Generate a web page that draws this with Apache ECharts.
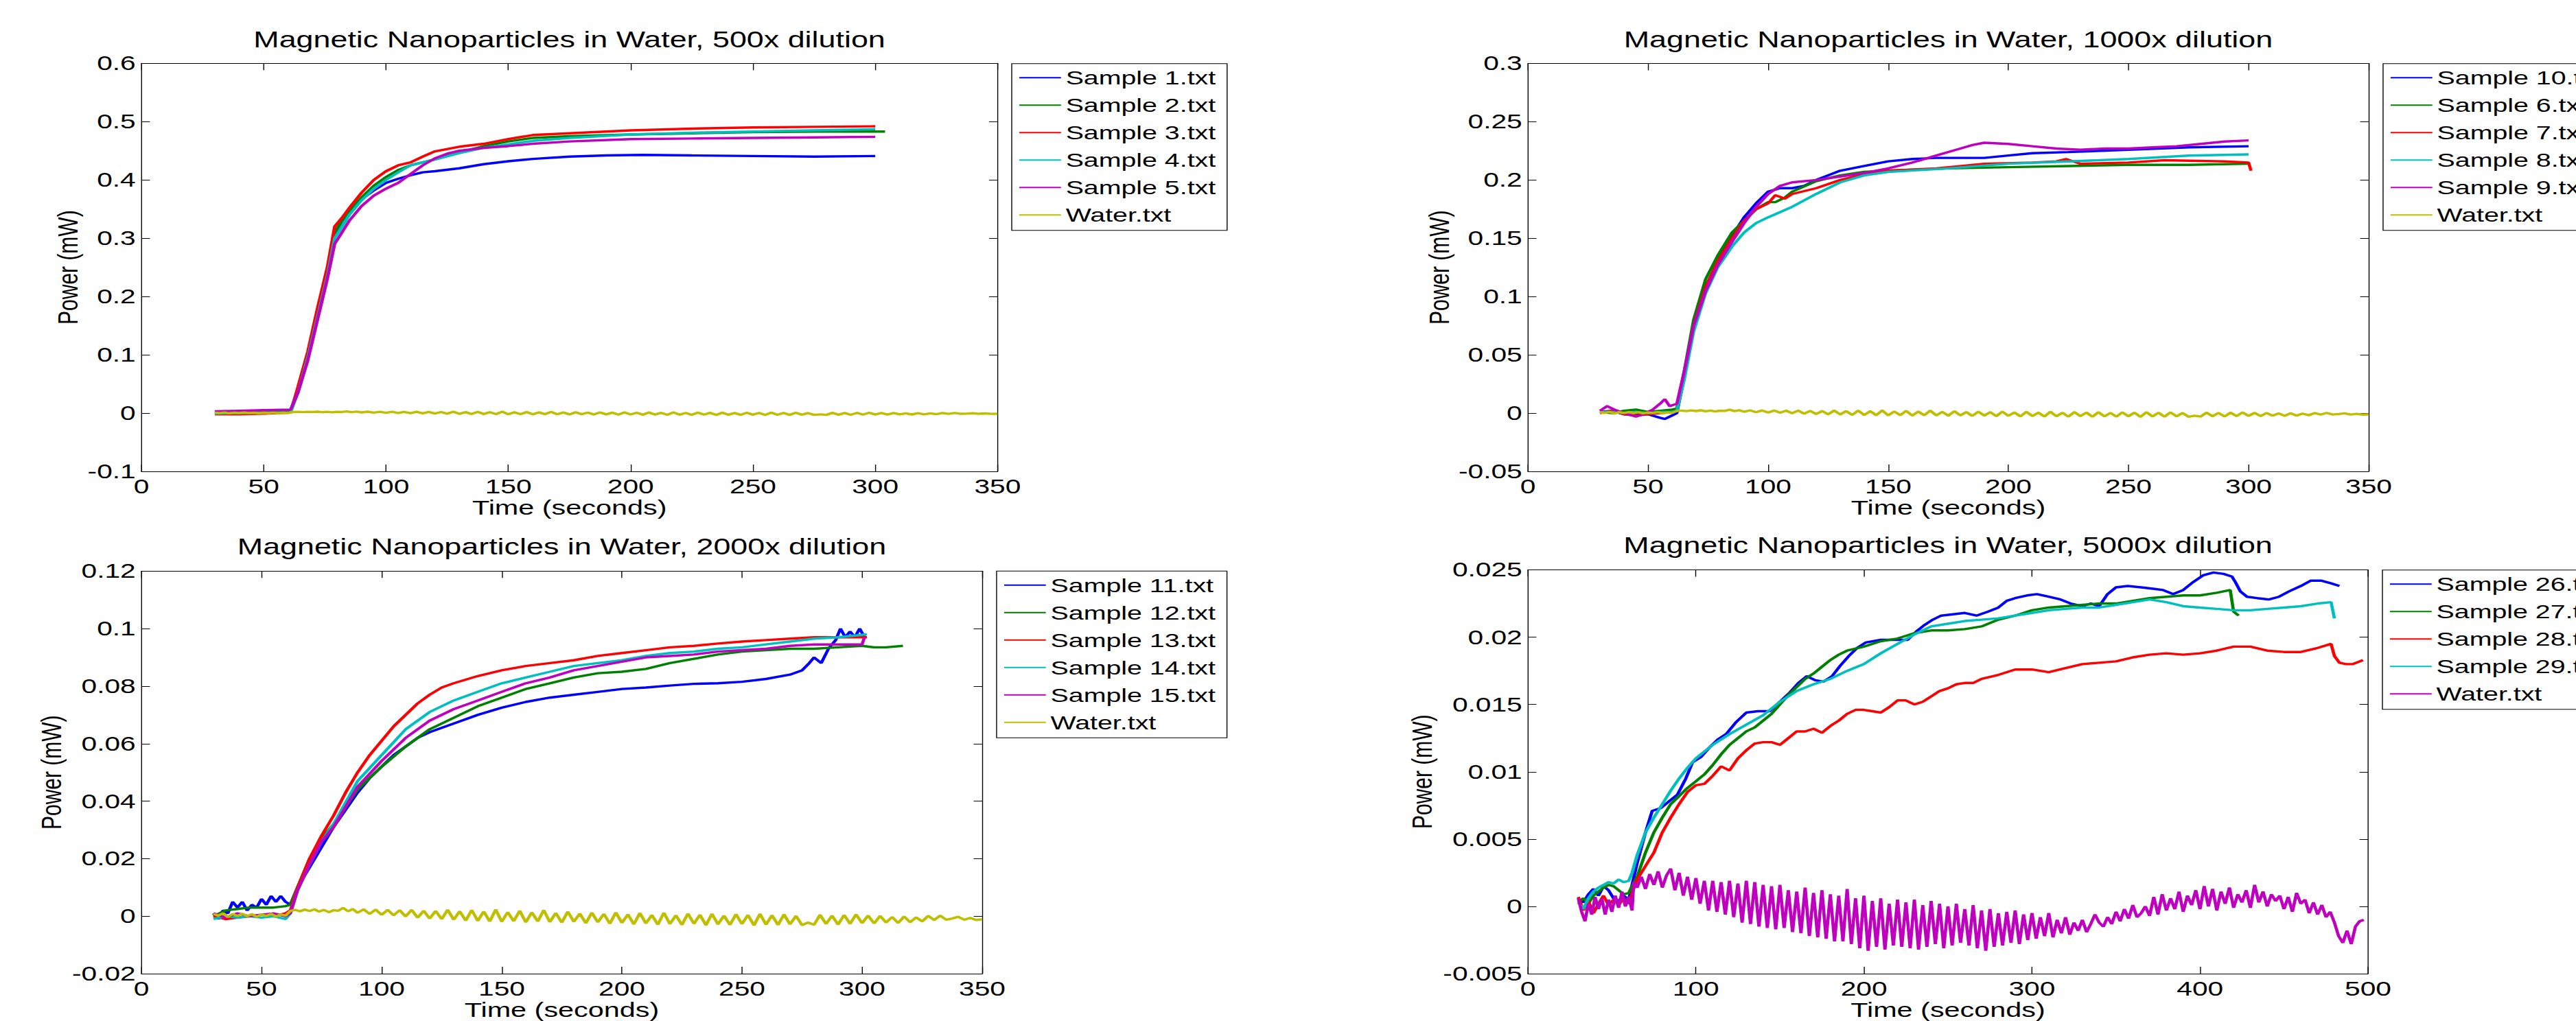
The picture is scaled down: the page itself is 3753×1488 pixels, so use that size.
<!DOCTYPE html>
<html><head><meta charset="utf-8">
<script src="https://cdn.jsdelivr.net/npm/echarts@6/dist/echarts.min.js"></script>
<style>
html,body{margin:0;padding:0;background:#fff;overflow:hidden;}
#wrap{position:absolute;left:0;top:0;width:3753px;height:1488px;overflow:hidden;background:#fff;}
#chart{position:absolute;left:0;top:0;width:2720px;height:1488px;transform:scaleX(1.379779);transform-origin:0 0;}
</style></head><body><div id="wrap"><div id="chart"></div></div>
<script>
// ---------------- DATA ----------------
const titles = [
  'Magnetic Nanoparticles in Water, 500x dilution',
  'Magnetic Nanoparticles in Water, 1000x dilution',
  'Magnetic Nanoparticles in Water, 2000x dilution',
  'Magnetic Nanoparticles in Water, 5000x dilution'
];
const xAxisTitle = 'Time (seconds)';
const yAxisTitle = 'Power (mW)';
const names1 = ['Sample 1.txt','Sample 2.txt','Sample 3.txt','Sample 4.txt','Sample 5.txt','Water.txt'];
const names2 = ['Sample 10.txt','Sample 6.txt','Sample 7.txt','Sample 8.txt','Sample 9.txt','Water.txt'];
const names3 = ['Sample 11.txt','Sample 12.txt','Sample 13.txt','Sample 14.txt','Sample 15.txt','Water.txt'];
const names4 = ['Sample 26.txt','Sample 27.txt','Sample 28.txt','Sample 29.txt','Water.txt'];

const xTicks350 = [0,50,100,150,200,250,300,350];
const xTicks500 = [0,100,200,300,400,500];
const yTicks1 = [-0.1,0,0.1,0.2,0.3,0.4,0.5,0.6];
const yTicks2 = [-0.05,0,0.05,0.1,0.15,0.2,0.25,0.3];
const yTicks3 = [-0.02,0,0.02,0.04,0.06,0.08,0.1,0.12];
const yTicks4 = [-0.005,0,0.005,0.01,0.015,0.02,0.025];

// Water.txt (shared by the 500x, 1000x and 2000x panels)
const water = [[30,0.0008],[32,0.0002],[34,0.001],[36,-0.0003],[38,0.0008],[40,0.0001],[42,0.0009],[44,0.0],[46,0.0007],[48,-0.0002],[50,0.0006],[52,0.0001],[54,0.0008],[56,-0.0001],[58,0.0006],[60,0.0002],[62,0.0018],
[64,0.0022],[66,0.0017],[68,0.0023],[70,0.0018],[72,0.0024],[74,0.0016],[76,0.0022],[78,0.0014],[80,0.0021],[82,0.0019],[84,0.0029],[86,0.0017],[88,0.0025],[90,0.0012],[92.5,0.0024],[95,0.0008],[97.5,0.0023],[100,0.0005],[102.5,0.0022],[105,0.0003],[107.5,0.0021],[110,-0.0001],[112.5,0.0022],[115,-0.0005],[117.5,0.0019],[120,-0.0008],[122.5,0.0018],[125,-0.001],[127.5,0.0022],[130,-0.0012],[132.5,0.0017],[135,-0.0015],[137.5,0.0021],[140,-0.0016],[142.5,0.0016],[145,-0.0018],[147.5,0.0023],[150,-0.0019],[152.5,0.0014],[155,-0.0017],[157.5,0.0019],[160,-0.0021],[162.5,0.0013],[165,-0.0018],[167.5,0.0021],[170,-0.002],[172.5,0.0011],[175,-0.0022],[177.5,0.0016],[180,-0.0019],[182.5,0.0009],[185,-0.0024],[187.5,0.0012],[190,-0.0021],[192.5,0.0008],[195,-0.0026],[197.5,0.0013],[200,-0.0023],[202.5,0.0006],[205,-0.0028],[207.5,0.0011],[210,-0.0025],[212.5,0.0004],[215,-0.0029],[217.5,0.0012],[220,-0.0027],[222.5,0.0003],[225,-0.003],[227.5,0.0009],[230,-0.0026],[232.5,0.0005],[235,-0.0031],[237.5,0.0008],[240,-0.0028],[242.5,0.0002],[245,-0.003],[247.5,0.0007],[250,-0.0027],[252.5,0.0004],[255,-0.0032],[257.5,0.0008],[260,-0.0029],[262.5,0.0003],[265,-0.003],[267.5,0.0006],[270,-0.0028],[272.5,0.0001],[275,-0.0031],[277.5,-0.0022],[280,-0.003],[282.5,0.0005],[285,-0.0027],[287.5,0.0002],[290,-0.0029],[292.5,0.0004],[295,-0.0026],[297.5,0.0006],[300,-0.0024],[302.5,0.0002],[305,-0.0025],[307.5,0.0001],[310,-0.0022],[312.5,-0.0003],[315,-0.0023],[317.5,-0.0001],[320,-0.0021],[322.5,-0.0004],[325,-0.0018],[327.5,0.0001],[330,-0.0013],[332.5,0.0002],[335,-0.0012],[337.5,-0.0008],[340,-0.0002],[342.5,-0.0012],[345,-0.0006],[347.5,-0.0013],[350,-0.0011]];

// 500x
const s1 = [[30,0.001],[40,0.003],[50,0.003],[61,0.004],[64,0.04],[68,0.1],[72,0.17],[76,0.24],[79,0.305],[82,0.33],[85,0.345],[90,0.367],[95,0.382],[100,0.395],[105,0.402],[110,0.408],[115,0.413],[120,0.415],[130,0.42],[140,0.427],[150,0.432],[160,0.436],[175,0.44],[190,0.442],[205,0.443],[225,0.442],[250,0.441],[275,0.44],[300,0.441]];
const s2 = [[30,0.0],[40,0.001],[50,0.002],[61,0.003],[64,0.04],[68,0.1],[72,0.17],[76,0.245],[79,0.31],[82,0.33],[85,0.347],[90,0.37],[95,0.39],[100,0.405],[105,0.417],[110,0.425],[120,0.435],[130,0.447],[140,0.458],[150,0.466],[160,0.472],[175,0.475],[200,0.478],[225,0.48],[250,0.482],[275,0.483],[300,0.483],[304,0.483]];
const s3 = [[30,-0.002],[40,-0.002],[50,-0.001],[61,0.001],[64,0.045],[68,0.105],[72,0.18],[76,0.25],[79,0.32],[82,0.335],[85,0.352],[90,0.378],[95,0.4],[100,0.415],[105,0.425],[110,0.43],[115,0.44],[120,0.449],[130,0.457],[140,0.462],[150,0.47],[160,0.477],[175,0.48],[200,0.485],[225,0.488],[250,0.49],[275,0.491],[300,0.492]];
const s4 = [[30,-0.001],[40,0.0],[50,0.001],[61,0.001],[64,0.035],[68,0.095],[72,0.165],[76,0.235],[79,0.3],[82,0.32],[85,0.34],[90,0.365],[95,0.385],[100,0.4],[105,0.413],[110,0.425],[120,0.435],[130,0.446],[140,0.455],[150,0.461],[160,0.467],[175,0.472],[200,0.478],[225,0.481],[250,0.483],[275,0.485],[300,0.487]];
const s5 = [[30,0.003],[40,0.004],[50,0.005],[61,0.006],[64,0.035],[68,0.09],[72,0.16],[76,0.23],[79,0.29],[82,0.31],[85,0.33],[90,0.355],[95,0.373],[100,0.385],[105,0.395],[110,0.41],[115,0.425],[120,0.437],[125,0.445],[130,0.45],[140,0.455],[150,0.458],[160,0.462],[175,0.466],[200,0.47],[225,0.471],[250,0.472],[275,0.473],[300,0.474]];

// 1000x
const s10 = [[30,0.001],[35,0.002],[40,-0.001],[45,0.0],[50,-0.001],[55,-0.004],[57,-0.005],[60,-0.002],[62,0.0],[65,0.03],[69,0.075],[74,0.108],[79,0.13],[85,0.152],[90,0.168],[95,0.18],[100,0.19],[105,0.193],[110,0.193],[115,0.195],[120,0.2],[130,0.208],[140,0.212],[150,0.216],[160,0.218],[170,0.219],[180,0.219],[190,0.219],[200,0.221],[210,0.223],[225,0.224],[250,0.226],[275,0.228],[300,0.229]];
const s6 = [[30,0.001],[35,0.0],[40,0.002],[45,0.003],[50,0.001],[55,0.002],[60,0.003],[62,0.004],[65,0.035],[69,0.08],[74,0.115],[79,0.135],[85,0.155],[90,0.165],[95,0.175],[100,0.181],[103,0.181],[107,0.185],[110,0.19],[120,0.199],[130,0.204],[140,0.207],[150,0.208],[175,0.21],[200,0.211],[225,0.212],[250,0.213],[275,0.213],[300,0.214]];
const s7 = [[30,0.0],[35,0.002],[40,-0.001],[45,-0.002],[50,-0.001],[55,0.0],[60,0.001],[62,0.002],[65,0.03],[69,0.075],[74,0.108],[79,0.13],[85,0.15],[90,0.165],[95,0.175],[100,0.18],[103,0.187],[107,0.184],[110,0.188],[120,0.193],[130,0.2],[140,0.205],[150,0.208],[170,0.21],[190,0.214],[210,0.215],[220,0.216],[224,0.218],[230,0.214],[250,0.215],[265,0.217],[290,0.216],[300,0.215],[301,0.208]];
const s8 = [[30,0.001],[35,0.001],[40,0.0],[45,0.001],[50,0.0],[55,0.001],[60,0.001],[62,0.002],[65,0.028],[69,0.07],[74,0.103],[79,0.125],[85,0.143],[90,0.155],[95,0.163],[100,0.168],[110,0.177],[120,0.188],[130,0.198],[140,0.204],[150,0.207],[175,0.21],[200,0.214],[225,0.216],[250,0.218],[275,0.221],[300,0.222]];
const s9 = [[30,0.002],[33,0.006],[36,0.003],[40,0.0],[45,-0.003],[48,-0.001],[52,0.003],[55,0.008],[57,0.012],[59,0.006],[62,0.008],[65,0.035],[69,0.075],[74,0.105],[79,0.127],[85,0.147],[90,0.163],[95,0.177],[100,0.188],[105,0.195],[110,0.198],[120,0.2],[130,0.203],[140,0.206],[150,0.21],[160,0.215],[170,0.221],[180,0.227],[185,0.23],[190,0.232],[200,0.231],[210,0.229],[220,0.227],[230,0.226],[240,0.227],[250,0.227],[260,0.228],[270,0.229],[280,0.231],[290,0.233],[300,0.234]];

// 2000x
const s11 = [[30,0.001],[32,-0.001],[34,0.002],[36,0.001],[38,0.005],[40,0.003],[42,0.005],[44,0.002],[46,0.004],[48,0.003],[50,0.006],[52,0.004],[54,0.007],[56,0.005],[58,0.007],[60,0.005],[62,0.004],[65,0.01],[70,0.017],[75,0.024],[80,0.031],[85,0.037],[90,0.043],[95,0.048],[100,0.052],[105,0.056],[110,0.059],[115,0.062],[120,0.064],[130,0.067],[140,0.07],[150,0.0725],[160,0.0745],[170,0.076],[180,0.077],[190,0.078],[200,0.079],[210,0.0795],[220,0.0802],[230,0.0808],[240,0.081],[250,0.0815],[260,0.0825],[270,0.084],[275,0.0855],[278,0.088],[280,0.09],[283,0.088],[286,0.093],[289,0.096],[291,0.1],[293,0.097],[295,0.099],[297,0.097],[299,0.1],[301,0.097]];
const s12 = [[30,0.0],[35,0.002],[40,0.0025],[45,0.003],[50,0.003],[55,0.003],[60,0.0035],[62,0.004],[65,0.01],[70,0.02],[75,0.027],[80,0.032],[90,0.044],[100,0.052],[110,0.059],[120,0.065],[130,0.069],[140,0.073],[150,0.076],[160,0.079],[170,0.081],[180,0.083],[190,0.0845],[200,0.085],[210,0.086],[220,0.088],[230,0.0895],[240,0.091],[250,0.092],[260,0.0925],[270,0.093],[280,0.093],[290,0.0935],[300,0.094],[305,0.0935],[310,0.0935],[317,0.094]];
const s13 = [[30,0.0],[35,-0.001],[40,-0.0005],[45,0.0],[50,0.0005],[55,0.0],[60,0.001],[62,0.002],[65,0.01],[70,0.02],[75,0.028],[80,0.035],[85,0.043],[90,0.05],[95,0.056],[100,0.061],[105,0.066],[110,0.07],[115,0.074],[120,0.077],[125,0.0795],[130,0.081],[140,0.0835],[150,0.0855],[160,0.087],[170,0.088],[180,0.089],[190,0.0905],[200,0.0915],[210,0.0925],[220,0.0935],[230,0.094],[240,0.0948],[250,0.0955],[260,0.096],[270,0.0965],[280,0.097],[290,0.097],[302,0.097]];
const s14 = [[30,-0.001],[35,0.0],[40,-0.0005],[45,0.0],[50,-0.0005],[55,0.0],[60,-0.001],[62,0.001],[65,0.009],[70,0.018],[75,0.026],[80,0.032],[90,0.047],[100,0.056],[110,0.065],[120,0.071],[130,0.075],[140,0.078],[150,0.081],[160,0.083],[170,0.085],[180,0.087],[190,0.088],[200,0.089],[210,0.0905],[220,0.0915],[230,0.092],[240,0.093],[250,0.0935],[260,0.0945],[270,0.0955],[280,0.0965],[290,0.097],[302,0.098]];
const s15 = [[30,0.001],[35,-0.0005],[40,0.001],[45,0.0],[50,0.0005],[55,0.001],[60,0.0],[62,0.001],[65,0.009],[70,0.018],[75,0.026],[80,0.031],[90,0.045],[100,0.054],[110,0.062],[120,0.068],[130,0.072],[140,0.075],[150,0.078],[160,0.081],[170,0.083],[180,0.0855],[190,0.087],[200,0.0885],[210,0.09],[220,0.0905],[230,0.091],[240,0.092],[250,0.0925],[260,0.093],[270,0.094],[280,0.0945],[300,0.0945],[301,0.097]];

// 5000x
const s26 = [[30,0.0005],[33,0.0003],[36,0.0009],[39,0.0013],[42,0.0008],[45,0.0015],[48,0.0012],[51,0.0006],[54,0.0004],[57,0.0008],[60,0.0005],[62,0.0016],[65,0.0032],[70,0.0055],[74,0.0071],[79,0.0073],[84,0.0078],[89,0.0083],[94,0.0095],[98,0.0107],[103,0.0111],[108,0.0118],[113,0.0124],[118,0.0128],[124,0.0137],[130,0.0144],[137,0.0145],[144,0.0145],[150,0.0152],[156,0.0159],[161,0.0166],[166,0.0171],[171,0.0168],[176,0.0167],[181,0.0171],[186,0.0179],[191,0.0186],[196,0.0192],[201,0.0196],[210,0.0198],[220,0.0198],[226,0.0198],[231,0.0204],[236,0.0209],[241,0.0213],[246,0.0216],[253,0.0217],[260,0.0218],[267,0.0216],[274,0.0219],[280,0.0222],[285,0.0227],[290,0.0229],[297,0.0231],[303,0.0232],[310,0.023],[317,0.0228],[323,0.0225],[330,0.0223],[335,0.0225],[340,0.0223],[345,0.0232],[350,0.0237],[357,0.0238],[365,0.0237],[372,0.0236],[378,0.0235],[384,0.0232],[390,0.0235],[396,0.0241],[402,0.0246],[408,0.0248],[414,0.0247],[419,0.0245],[421,0.0241],[424,0.0234],[428,0.023],[434,0.0229],[441,0.0228],[447,0.023],[453,0.0234],[460,0.0238],[466,0.0242],[472,0.0242],[478,0.024],[483,0.0238]];
const s27 = [[30,0.0003],[33,0.0006],[36,0.0002],[39,0.0008],[42,0.0011],[45,0.0014],[48,0.0016],[51,0.0015],[54,0.0012],[57,0.0009],[60,0.001],[62,0.0015],[65,0.0022],[70,0.004],[75,0.0055],[80,0.0066],[85,0.0076],[90,0.0082],[95,0.0088],[100,0.0093],[105,0.0098],[110,0.0105],[115,0.0113],[120,0.012],[125,0.0125],[130,0.013],[135,0.0133],[140,0.0138],[145,0.0143],[150,0.015],[155,0.0157],[160,0.0163],[165,0.0169],[170,0.0173],[175,0.0178],[180,0.0183],[185,0.0187],[190,0.019],[200,0.0193],[210,0.0197],[220,0.0199],[230,0.0203],[240,0.0205],[250,0.0205],[260,0.0206],[270,0.0208],[280,0.0213],[290,0.0216],[300,0.022],[310,0.0222],[320,0.0223],[330,0.0224],[340,0.0225],[350,0.0225],[360,0.0227],[370,0.0229],[380,0.023],[390,0.0231],[400,0.0231],[410,0.0233],[418,0.0235],[420,0.0219],[423,0.0216]];
const s28 = [[30,0.0007],[33,-0.0003],[36,0.0004],[39,-0.0005],[42,0.0002],[45,0.0008],[48,0.0001],[51,0.0005],[54,0.0001],[57,0.0006],[60,0.0002],[62,0.001],[65,0.002],[70,0.003],[75,0.004],[80,0.0055],[85,0.0066],[90,0.0076],[95,0.0085],[100,0.009],[105,0.0091],[110,0.0097],[115,0.0104],[120,0.0101],[125,0.011],[130,0.0116],[135,0.0121],[140,0.0122],[145,0.0122],[150,0.012],[155,0.0125],[160,0.013],[165,0.013],[170,0.0132],[175,0.0129],[180,0.0134],[185,0.0138],[190,0.0143],[195,0.0146],[200,0.0146],[205,0.0145],[210,0.0144],[215,0.0148],[220,0.0153],[225,0.0153],[230,0.015],[235,0.0152],[240,0.0156],[245,0.016],[250,0.0162],[255,0.0165],[260,0.0166],[265,0.0166],[270,0.0169],[280,0.0172],[290,0.0176],[300,0.0176],[310,0.0174],[320,0.0177],[330,0.018],[340,0.0181],[350,0.0182],[360,0.0185],[370,0.0187],[380,0.0188],[390,0.0187],[400,0.0188],[410,0.019],[420,0.0193],[430,0.0193],[440,0.019],[450,0.0189],[460,0.0189],[470,0.0192],[478,0.0195],[480,0.0186],[483,0.0181],[487,0.018],[491,0.018],[495,0.0182],[497,0.0183]];
const s29 = [[30,0.0003],[33,-0.0002],[36,0.0006],[39,0.0011],[42,0.0014],[45,0.0016],[48,0.0018],[51,0.0017],[54,0.002],[57,0.0018],[60,0.0019],[62,0.0025],[65,0.0038],[70,0.0055],[75,0.0066],[80,0.0076],[85,0.0086],[90,0.0095],[95,0.0103],[100,0.011],[110,0.012],[120,0.0128],[130,0.0135],[140,0.0142],[150,0.0152],[160,0.016],[170,0.0165],[180,0.0169],[190,0.0175],[200,0.018],[210,0.0188],[220,0.0195],[230,0.0202],[240,0.0208],[250,0.021],[260,0.0212],[270,0.0213],[280,0.0214],[290,0.0216],[300,0.0218],[310,0.022],[320,0.0221],[330,0.0222],[340,0.0222],[350,0.0224],[360,0.0226],[370,0.0228],[380,0.0226],[390,0.0223],[400,0.0222],[410,0.0221],[420,0.022],[430,0.022],[440,0.0221],[450,0.0222],[460,0.0223],[470,0.0225],[478,0.0226],[480,0.0214]];
const water4 = [[30,0.0006],[32,-0.0004],[34,-0.0011],[36,0.0002],[38,-0.0006],[40,0.0007],[42,-0.0002],[44,0.0006],[46,-0.0006],[48,0.0005],[50,-0.0004],[52,0.0008],[54,-0.0001],[56,0.0011],[58,0.0],[60,0.0007],[62,-0.0003],[63,0.0018],[65,0.0014],[67.5,0.0022],[70,0.0013],[72.5,0.0024],[75,0.0016],[77.5,0.0026],[80,0.0014],[82.5,0.0023],[85,0.0028],[87.5,0.0012],[90,0.0025],[92.5,0.0008],[95,0.0022],[97.5,0.0005],[100,0.0021],[102.5,0.0002],[105,0.0019],[107.5,-0.0003],[110,0.0019],[112.5,-0.0004],[115,0.0018],[117.5,-0.0006],[120,0.0019],[122.5,-0.0008],[125,0.0017],[127.5,-0.0012],[130,0.0019],[132.5,-0.0013],[135,0.0018],[137.5,-0.0015],[140,0.0016],[142.5,-0.0016],[145,0.0015],[147.5,-0.0017],[150,0.0016],[152.5,-0.0016],[155,0.0012],[157.5,-0.0019],[160,0.0011],[162.5,-0.002],[165,0.0014],[167.5,-0.0022],[170,0.001],[172.5,-0.0023],[175,0.0012],[177.5,-0.0024],[180,0.0009],[182.5,-0.0026],[185,0.0008],[187.5,-0.0026],[190,0.0013],[192.5,-0.0028],[195,0.0006],[197.5,-0.0031],[200,0.0008],[202.5,-0.0033],[205,0.0004],[207.5,-0.003],[210,0.0006],[212.5,-0.0032],[215,0.0002],[217.5,-0.0029],[220,0.0005],[222.5,-0.003],[225,0.0003],[227.5,-0.0031],[230,0.0005],[232.5,-0.0032],[235,0.0001],[237.5,-0.003],[240,0.0004],[242.5,-0.0028],[245,0.0002],[247.5,-0.0031],[250,0.0],[252.5,-0.0029],[255,0.0002],[257.5,-0.0027],[260,-0.0002],[262.5,-0.0029],[265,0.0001],[267.5,-0.0031],[270,-0.0003],[272.5,-0.0033],[275,-0.0002],[277.5,-0.003],[280,-0.0005],[282.5,-0.0029],[285,-0.0004],[287.5,-0.0027],[290,-0.0003],[292.5,-0.0028],[295,-0.0006],[297.5,-0.0025],[300,-0.0005],[302.5,-0.0024],[305,-0.0008],[307.5,-0.0022],[310,-0.0005],[312.5,-0.0023],[315,-0.001],[317.5,-0.002],[320,-0.0008],[322.5,-0.0021],[325,-0.0012],[327.5,-0.0018],[330,-0.001],[332.5,-0.0019],[335,-0.0013],[337.5,-0.0006],[340,-0.0012],[342.5,-0.0015],[345,-0.0008],[347.5,-0.0013],[350,-0.0004],[352.5,-0.0011],[355,-0.0002],[357.5,-0.0009],[360,0.0001],[362.5,-0.0008],[365,-0.0005],[367.5,0.0],[370,-0.0007],[372.5,0.0007],[375,-0.0006],[377.5,0.0009],[380,-0.0003],[382.5,0.0006],[385,-0.0002],[387.5,0.0011],[390,-0.0004],[392.5,0.0008],[395,0.0001],[397.5,0.0012],[400,-0.0002],[402.5,0.0015],[405,0.0],[407.5,0.0013],[410,-0.0003],[412.5,0.0011],[415,0.0002],[417.5,0.0014],[420,-0.0001],[422.5,0.0009],[425,0.0003],[427.5,0.0012],[430,-0.0001],[432.5,0.0016],[435,0.0003],[437.5,0.0011],[440,0.0],[442.5,0.0009],[445,0.0004],[447.5,0.0008],[450,-0.0002],[452.5,0.0007],[455,-0.0004],[457.5,0.001],[460,0.0002],[462.5,0.0005],[465,-0.0005],[467.5,0.0003],[470,-0.0006],[472.5,0.0001],[475,-0.0008],[477.5,-0.0004],[480,-0.0012],[482.5,-0.0022],[485,-0.0027],[487.5,-0.0018],[490,-0.0028],[492.5,-0.0015],[495,-0.0011],[497.5,-0.001]];

// ---------------- STYLE / LAYOUT ----------------
const FONT = '"Liberation Sans", Arial, Helvetica, sans-serif';
const C = {blue:'#0000FF', green:'#008000', red:'#FF0000', cyan:'#00BFBF', magenta:'#BF00BF', yellow:'#BFBF00'};
const colors6 = [C.blue, C.green, C.red, C.cyan, C.magenta, C.yellow];
const colors5 = [C.blue, C.green, C.red, C.cyan, C.magenta];

const panels = [
  {title:titles[0], names:names1, data:[s1,s2,s3,s4,s5,water], colors:colors6, xt:xTicks350, yt:yTicks1,
   grid:{left:149.3, top:92.3, width:904, height:594.7}, tpos:[601.2,57.5], lpos:[1068.3,92.7], yGap:63},
  {title:titles[1], names:names2, data:[s10,s6,s7,s8,s9,water], colors:colors6, xt:xTicks350, yt:yTicks2,
   grid:{left:1613.3, top:92.5, width:887.8, height:594.5}, tpos:[2057.2,57.5], lpos:[2516.3,92.7], yGap:79},
  {title:titles[2], names:names3, data:[s11,s12,s13,s14,s15,water], colors:colors6, xt:xTicks350, yt:yTicks3,
   grid:{left:149.3, top:832.3, width:887.8, height:595.2}, tpos:[593.2,796.5], lpos:[1052.3,832.3], yGap:80},
  {title:titles[3], names:names4, data:[s26,s27,s28,s29,water4], colors:colors5, xt:xTicks500, yt:yTicks4,
   grid:{left:1613.3, top:830.5, width:887.1, height:594}, tpos:[2056.9,795], lpos:[2515.6,830.7], yGap:97}
];

const option = {animation:false, backgroundColor:'#fff', title:[], grid:[], xAxis:[], yAxis:[], legend:[], series:[]};
const lineAxis = {show:true, onZero:false, lineStyle:{color:'#000', width:1}};
panels.forEach((p, i) => {
  const xmin = p.xt[0], xmax = p.xt[p.xt.length-1], xint = p.xt[1]-p.xt[0];
  const ymin = p.yt[0], ymax = p.yt[p.yt.length-1], yint = p.yt[1]-p.yt[0];
  option.title.push({text:p.title, left:p.tpos[0], top:p.tpos[1], textAlign:'center', textVerticalAlign:'middle', padding:0,
    textStyle:{fontSize:32.5, fontWeight:'normal', color:'#000', fontFamily:FONT}});
  option.grid.push(Object.assign({containLabel:false, show:true, backgroundColor:'#fff', borderWidth:0}, p.grid));
  const xb = {type:'value', gridIndex:i, min:xmin, max:xmax, interval:xint, position:'bottom',
    axisLine:lineAxis, axisTick:{show:true, inside:true, length:10, lineStyle:{color:'#000', width:1}},
    axisLabel:{show:true, margin:7, fontSize:29.5, color:'#000', fontFamily:FONT, showMinLabel:true, showMaxLabel:true},
    splitLine:{show:false}, name:xAxisTitle, nameLocation:'middle', nameGap:36,
    nameTextStyle:{fontSize:30, color:'#000', fontFamily:FONT}};
  const xt = Object.assign({}, xb, {position:'top', axisLabel:{show:false}, name:''});
  const yl = {type:'value', gridIndex:i, min:ymin, max:ymax, interval:yint, position:'left',
    axisLine:lineAxis, axisTick:{show:true, inside:true, length:9, lineStyle:{color:'#000', width:1}},
    axisLabel:{show:true, margin:6, fontSize:29.5, color:'#000', fontFamily:FONT, showMinLabel:true, showMaxLabel:true},
    splitLine:{show:false}, name:yAxisTitle, nameLocation:'middle', nameGap:p.yGap,
    nameTextStyle:{fontSize:30, color:'#000', fontFamily:FONT}};
  const yr = Object.assign({}, yl, {position:'right', axisLabel:{show:false}, name:''});
  option.xAxis.push(xb, xt);
  option.yAxis.push(yl, yr);
  option.legend.push({show:true, orient:'vertical', left:p.lpos[0], top:p.lpos[1], padding:[6,12,8,8],
    itemGap:11, itemWidth:44, itemHeight:2, icon:'rect', borderColor:'#000', borderWidth:1, backgroundColor:'#fff',
    selectedMode:false, textStyle:{fontSize:28.5, color:'#000', fontFamily:FONT},
    data:p.names.map((n,k)=>({name:n, icon:'rect', itemStyle:{color:p.colors[k]}}))});
  p.names.forEach((n, k) => {
    option.series.push({type:'line', name:n, xAxisIndex:2*i, yAxisIndex:2*i, data:p.data[k],
      symbol:'none', showSymbol:false, silent:true, clip:true,
      lineStyle:{width:3.4, color:p.colors[k]}, itemStyle:{color:p.colors[k]}});
  });
});

const chart = echarts.init(document.getElementById('chart'), null, {renderer:'svg'});
chart.setOption(option);
</script></body></html>
